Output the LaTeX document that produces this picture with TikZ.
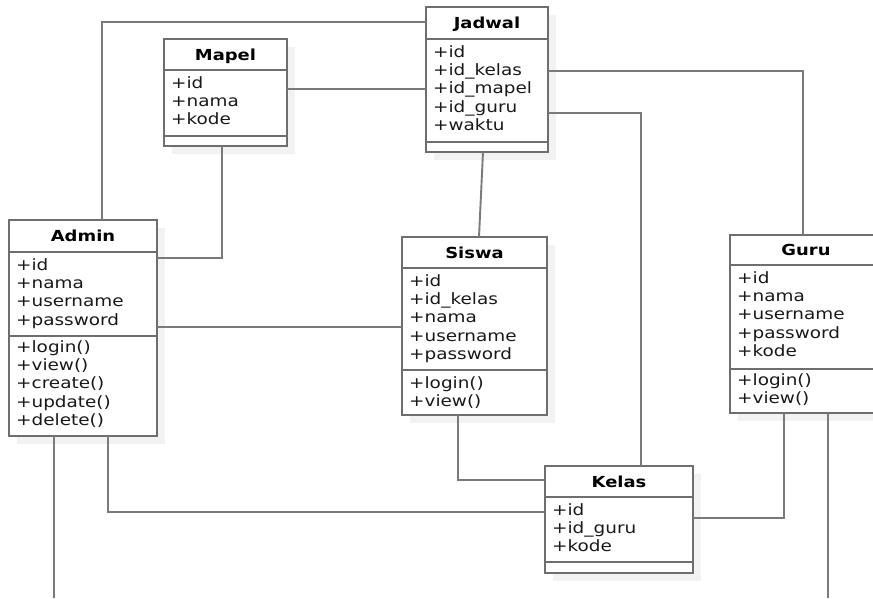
\documentclass[tikz,border=0pt]{standalone}
\usepackage{fontspec}
\newfontfamily\umlfont[FakeStretch=1.18]{DejaVu Sans}
\usetikzlibrary{shadows}
\definecolor{boxline}{HTML}{6E6E6E}
\definecolor{linkgray}{HTML}{7A7A7A}
\definecolor{shade}{HTML}{F2F2F2}
\tikzset{
  classbox/.style={draw=boxline, fill=white, line width=1.7pt, inner sep=0pt, outer sep=0pt,
    anchor=north west,
    drop shadow={shadow xshift=8pt, shadow yshift=-8pt, fill=shade, opacity=1}},
  sepline/.style={draw=boxline, line width=1.7pt},
  link/.style={draw=linkgray, line width=1.9pt},
  classtitle/.style={font=\umlfont\fontsize{15.2}{18}\selectfont\bfseries, anchor=base, inner sep=0pt},
  member/.style={font=\umlfont\fontsize{15.6}{18}\selectfont, anchor=base west, inner sep=0pt, text=black!90},
}
% box: [extra node options] name, x1, y1, x2, y2, title separator y, attribute separator y, title
\newcommand\umlbox[9][]{%
  \node[classbox, minimum width={#5-#3}, minimum height={#6-#4}, #1] (#2) at (#3,#4) {};
  \draw[sepline] (#2.west |- 0,#7) -- (#2.east |- 0,#7);
  \draw[sepline] (#2.west |- 0,#8) -- (#2.east |- 0,#8);
  \node[classtitle] at ({(#3+#5)/2},{(#4+#7)/2+5.6}) {#9};
}
% member rows: left x, centre y of the first row, list of rows
\newcommand\members[3]{%
  \foreach \m [count=\i from 0] in {#3}
    \node[member] at (#1,{#2+5+18.4*\i}) {\m};
}
\begin{document}
\begin{tikzpicture}[x=1pt,y=-1pt]
  \fill[white] (0,0) rectangle (873,598);
  \useasboundingbox (0,0) rectangle (873,598);

  % classes
  \umlbox{admin}{9}{220}{157}{436}{252}{336}{Admin}
  \members{16}{265}{+id,+nama,+username,+password}
  \members{16}{347}{+login(),+view(),+create(),+update(),+delete()}

  \umlbox{mapel}{164}{39}{287}{146}{70}{136}{Mapel}
  \members{171}{83}{+id,+nama,+kode}

  \umlbox{jadwal}{426}{7}{548}{152}{39}{142}{Jadwal}
  \members{433}{52}{+id,+id\_kelas,+id\_mapel,+id\_guru,+waktu}

  \umlbox{siswa}{402}{237}{547}{415}{268}{370}{Siswa}
  \members{409}{281}{+id,+id\_kelas,+nama,+username,+password}
  \members{409}{383}{+login(),+view()}

  % Guru is cut by the right edge: its outline is left open there
  \umlbox[draw=none]{guru}{730}{235}{882}{413}{265}{369}{Guru}
  \draw[sepline] (guru.north east) -- (guru.north west) -- (guru.south west) -- (guru.south east);
  \members{737}{278}{+id,+nama,+username,+password,+kode}
  \members{737}{380}{+login(),+view()}

  \umlbox{kelas}{545}{466}{693}{573}{497}{562}{Kelas}
  \members{552}{510}{+id,+id\_guru,+kode}

  % associations
  \draw[link] ([xshift=93pt]admin.north west) |- ([yshift=-15pt]jadwal.north west);
  \draw[link] ([yshift=-50pt]mapel.north east) -- ([yshift=-82pt]jadwal.north west);
  \draw[link] ([xshift=58pt]mapel.south west) |- ([yshift=-38pt]admin.north east);
  \draw[link] ([yshift=-107pt]admin.north east) -- ([yshift=-90pt]siswa.north west);
  \draw[link] ([xshift=57pt]jadwal.south west) -- ([xshift=77pt]siswa.north west);
  \draw[link] ([yshift=-64pt]jadwal.north east) -| ([xshift=73pt]guru.north west);
  \draw[link] ([yshift=-106pt]jadwal.north east) -| ([xshift=96pt]kelas.north west);
  \draw[link] ([xshift=56pt]siswa.south west) |- ([yshift=-14pt]kelas.north west);
  \draw[link] ([xshift=99pt]admin.south west) |- ([yshift=-46pt]kelas.north west);
  \draw[link] ([xshift=54pt]guru.south west) |- ([yshift=-52pt]kelas.north east);
  \coordinate (adminEnd) at (54,598);
  \coordinate (guruEnd) at (828,598);
  \draw[link] ([xshift=45pt]admin.south west) -- (adminEnd);
  \draw[link] ([xshift=98pt]guru.south west) -- (guruEnd);
\end{tikzpicture}
\end{document}
